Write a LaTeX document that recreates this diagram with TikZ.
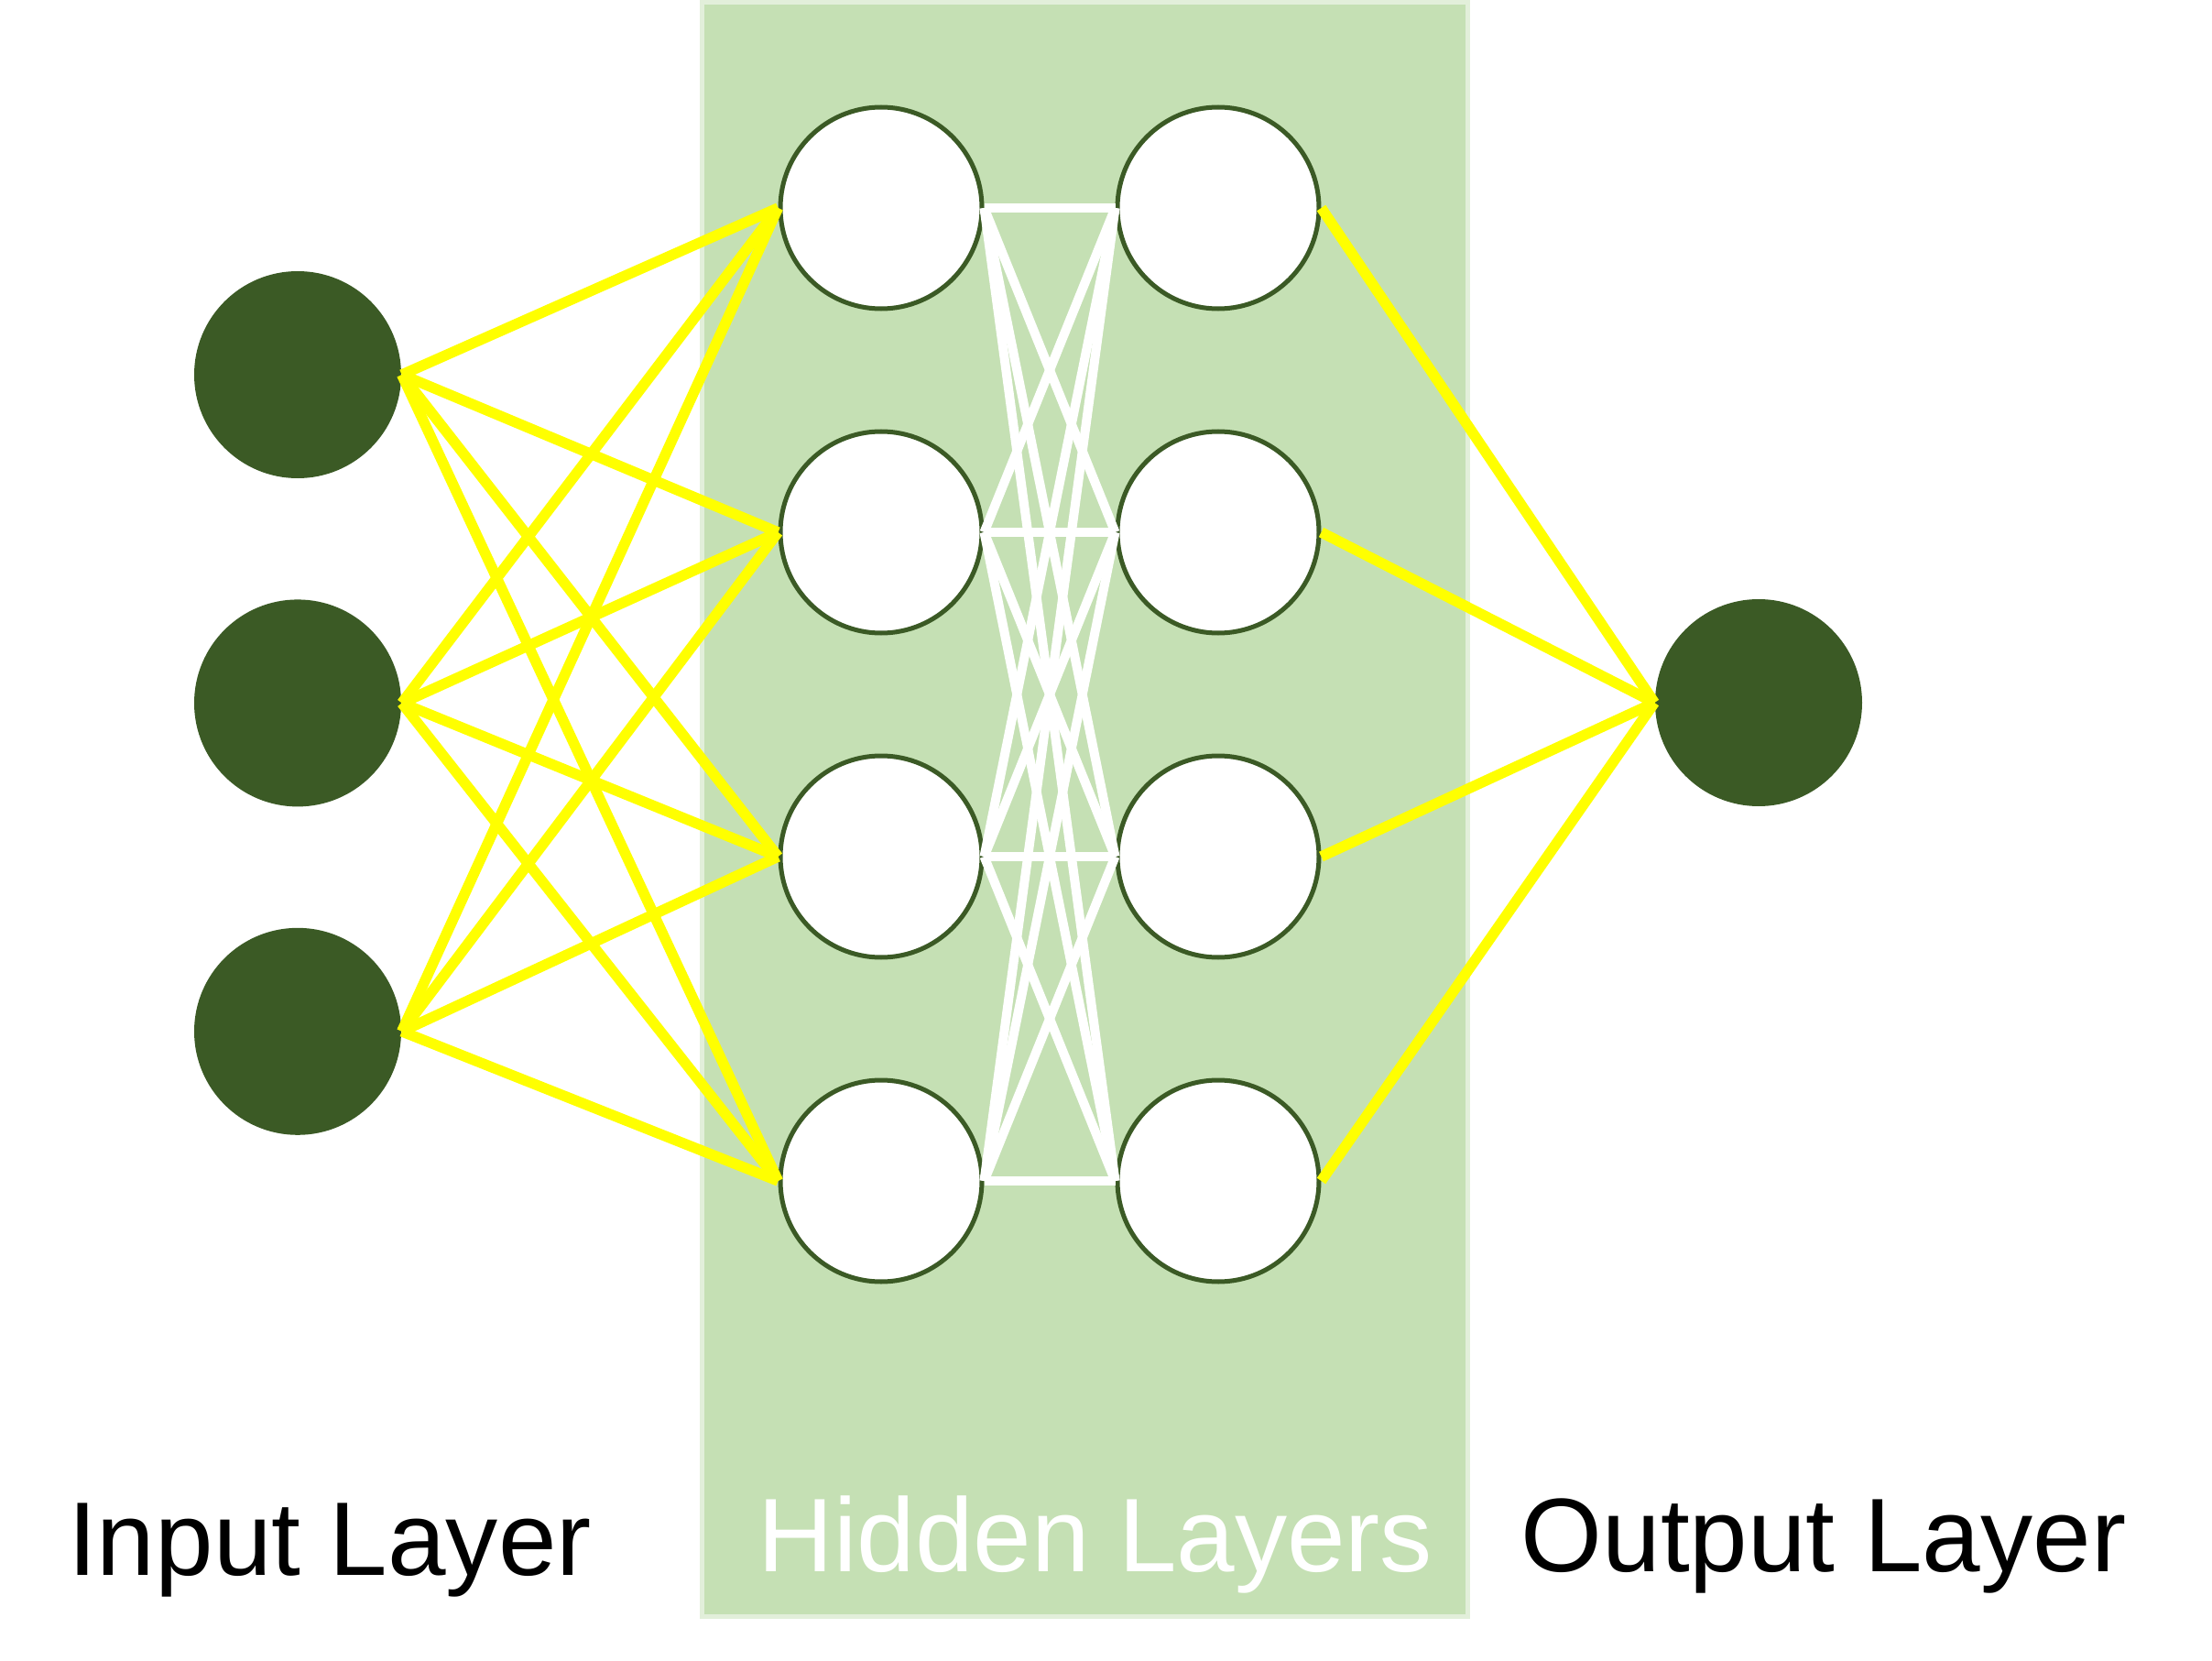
\documentclass[tikz,border=0pt]{standalone}
\usepackage{fontspec}
\setmainfont{Liberation Sans}
\usepackage{tikz}
\usetikzlibrary{positioning}

\definecolor{darkgreen}{HTML}{3B5A25}
\definecolor{lightgreen}{HTML}{C5E0B4}
\definecolor{palegreen}{HTML}{E2EFDA}
\definecolor{linkyellow}{HTML}{FFFF00}

\tikzset{
    inneuron/.style={circle, fill=darkgreen, minimum size=2.26cm, inner sep=0pt},
    hidneuron/.style={circle, draw=darkgreen, line width=0.05cm, fill=white, minimum size=2.20cm, inner sep=0pt},
    yellowlink/.style={linkyellow, line width=0.115cm},
    whitelink/.style={white, line width=0.10cm},
    layerlabel/.style={anchor=base, font=\fontsize{32.5}{39}\selectfont}
}

\begin{document}
\begin{tikzpicture}[node distance=1.29cm]
            \useasboundingbox (0,0) rectangle (24.15,-18.13);

            % Hidden layer box
            \draw[fill=lightgreen, draw=palegreen, line width=0.05cm] (7.665,-0.025) rectangle (16.025,-17.64);

            % Nodes
            \node[inneuron] (I1) at (3.25,-4.09) {};
            \node[inneuron, below=1.31cm of I1] (I2) {};
            \node[inneuron, below=1.31cm of I2] (I3) {};

            \node[hidneuron] (H1) at (9.62,-2.27) {};
            \node[hidneuron, below=of H1] (H2) {};
            \node[hidneuron, below=of H2] (H3) {};
            \node[hidneuron, below=of H3] (H4) {};

            \node[hidneuron, right=1.43cm of H1] (G1) {};
            \node[hidneuron, below=of G1] (G2) {};
            \node[hidneuron, below=of G2] (G3) {};
            \node[hidneuron, below=of G3] (G4) {};

            \node[inneuron] (O) at (19.20,-7.67) {};

            % Edges
            \foreach \i in {1,2,3}
                \foreach \j in {1,2,3,4}
                    \draw[yellowlink] (I\i.east) -- (H\j.west);
            \foreach \i in {1,2,3,4}
                \foreach \j in {1,2,3,4}
                    \draw[whitelink] (H\i.east) -- (G\j.west);
            \foreach \j in {1,2,3,4}
                \draw[yellowlink] (G\j.east) -- (O.west);

            % Labels
            \node[layerlabel] (inLbl) at (3.60,-17.19) {Input Layer};
            \node[layerlabel, text=white] (hidLbl) at (11.96,-17.15) {Hidden Layers};
            \node[layerlabel] (outLbl) at (19.91,-17.15) {Output Layer};

        \end{tikzpicture}
\end{document}
